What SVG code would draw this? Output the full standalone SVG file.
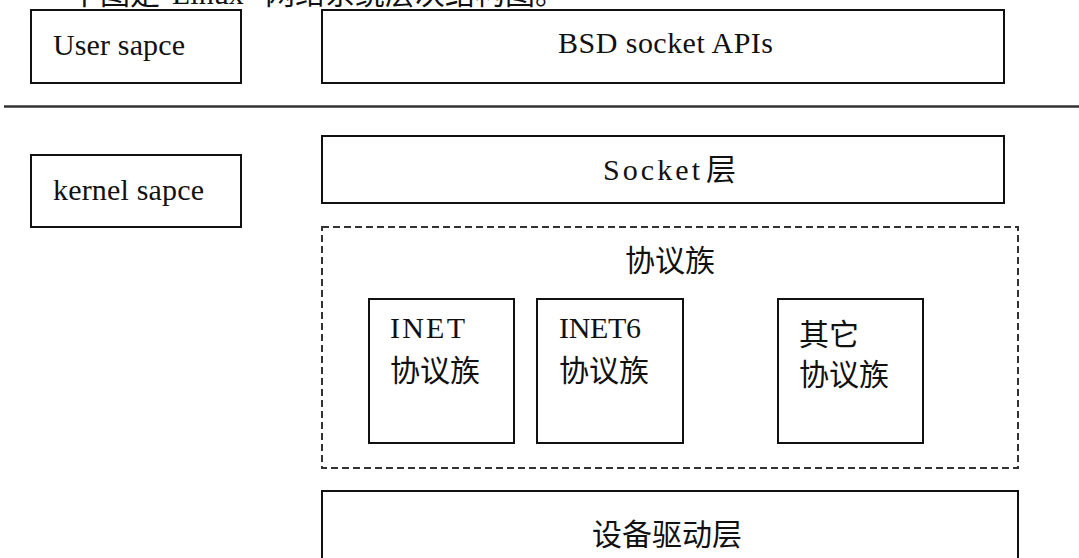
<svg xmlns="http://www.w3.org/2000/svg" width="1079" height="558" viewBox="0 0 1079 558">
<style>
.box{fill:#fff;stroke:#111;stroke-width:2}
.dash{fill:none;stroke:#333;stroke-width:2;stroke-dasharray:7 4}
.t{font-family:'Liberation Serif','Noto Sans CJK SC',serif;font-size:30px;fill:#111}
.c{font-family:'Noto Sans CJK SC','Liberation Serif',sans-serif;font-size:30px;fill:#111}
</style>
<rect x="0" y="0" width="1079" height="558" fill="#fff"/>
<text class="c" x="70" y="4" font-size="29">下图是<tspan font-family="'Liberation Serif',serif" x="172">Linux</tspan><tspan x="265">网络系统层次结构图。</tspan></text>
<g id="connectors">
<line x1="4" y1="106.5" x2="1079" y2="106.5" stroke="#333" stroke-width="2.5"/>
</g>
<g id="user-space"><rect class="box" x="31" y="10" width="210" height="73"/><text class="t" x="53" y="55" textLength="132">User sapce</text></g>
<g id="bsd-socket-apis"><rect class="box" x="322" y="10" width="682" height="73"/><text class="t" x="558" y="53" textLength="215">BSD socket APIs</text></g>
<g id="kernel-space"><rect class="box" x="31" y="155" width="210" height="72"/><text class="t" x="53" y="200" textLength="151">kernel sapce</text></g>
<g id="socket-layer"><rect class="box" x="322" y="136" width="682" height="67"/><text class="t" x="603" y="180" textLength="97">Socket</text><text class="c" x="706" y="180">层</text></g>
<g id="protocol-families"><rect class="dash" x="322" y="227" width="696" height="241"/><text class="c" x="625" y="271">协议族</text></g>
<g id="inet"><rect class="box" x="369" y="299" width="145" height="144"/><text class="t" x="390" y="338" textLength="75">INET</text><text class="c" x="390" y="381">协议族</text></g>
<g id="inet6"><rect class="box" x="537" y="299" width="146" height="144"/><text class="t" x="559" y="338" textLength="82">INET6</text><text class="c" x="559" y="381">协议族</text></g>
<g id="other"><rect class="box" x="778" y="299" width="145" height="144"/><text class="c" x="799" y="345">其它</text><text class="c" x="799" y="385">协议族</text></g>
<g id="device-driver-layer"><rect class="box" x="322" y="491" width="696" height="80"/><text class="c" x="592" y="545">设备驱动层</text></g>
</svg>
